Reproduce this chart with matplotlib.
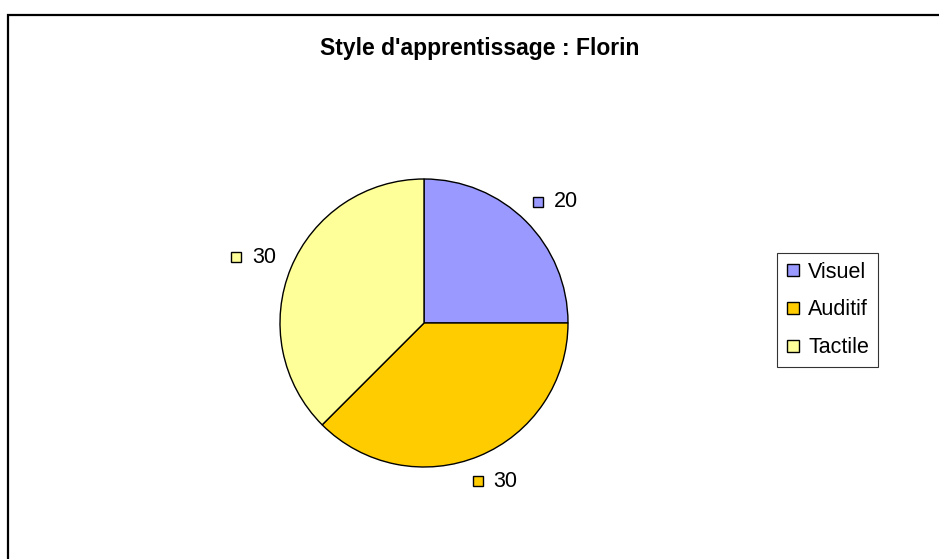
import matplotlib.pyplot as plt
import numpy as np
from matplotlib.lines import Line2D

plt.rcParams['font.family'] = ['Liberation Sans', 'DejaVu Sans']

# données du graphique
categories = ['Visuel', 'Auditif', 'Tactile']
values = [20, 30, 30]
colors = ['#9999FF', '#FFCC00', '#FFFF99']
title = "Style d'apprentissage : Florin"

W, H = 939, 559
fig = plt.figure(figsize=(W / 100, H / 100), dpi=100)
ax = fig.add_axes([0, 0, 1, 1])

# cadre du graphique (bords droit et bas hors image)
ax.plot([8, 8, W + 5], [-5, H - 15, H - 15], color='black', lw=1.6,
        solid_joinstyle='miter', clip_on=False)

cx, cy, r = 424, H - 323, 144
wedges, _ = ax.pie(values, colors=colors, startangle=90, counterclock=False,
                   center=(cx, cy), radius=r, frame=True,
                   wedgeprops=dict(edgecolor='black', linewidth=1.0))
ax.set_xlim(0, W)
ax.set_ylim(0, H)
ax.set_aspect('equal')
ax.axis('off')

# étiquettes de données avec petit carré de couleur
bw, bh = 44, 20
for w, v, c in zip(wedges, values, colors):
    ang = np.deg2rad((w.theta1 + w.theta2) / 2)
    lx = cx + 1.13 * r * np.cos(ang) + bw / 2 * np.cos(ang)
    ly = cy + 1.12 * r * np.sin(ang) + bh / 2 * np.sin(ang)
    ax.plot(lx - 17, ly, 's', ms=7.8, mfc=c, mec='black', mew=1.0)
    ax.text(lx - 1, ly, str(v), ha='left', va='center', fontsize=15.5)

ax.text(480, H - 49, title, ha='center', va='center', fontsize=16.5,
        fontweight='bold')

handles = [Line2D([], [], marker='s', ls='none', ms=8.5, mfc=c, mec='black',
                  mew=1.0) for c in colors]
leg = fig.legend(handles, categories, loc='upper left',
                 bbox_to_anchor=(777 / W, 1 - 253 / H), borderaxespad=0,
                 fontsize=15.5, frameon=True, fancybox=False, edgecolor='black',
                 handlelength=0.7, handletextpad=0.35, labelspacing=0.78,
                 borderpad=0.4)
leg.get_frame().set_linewidth(0.8)

fig.savefig('out.png', dpi=100)
